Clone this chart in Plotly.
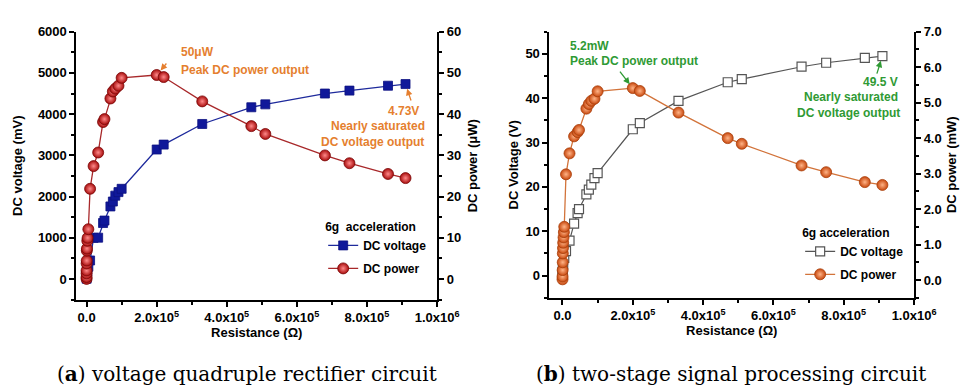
import plotly.graph_objects as go

# ---------------- data ----------------
# Panel (a): voltage quadruple rectifier circuit
R_volt_a = [100, 500, 1000, 2000, 5000, 10000, 20000, 33000, 47000, 51000, 68000, 75000, 82000, 91000, 100000,
            200000, 220000, 330000, 470000, 510000, 680000, 750000, 860000, 910000]
V_volt_a = [10, 50, 100, 180, 300, 452, 1000, 1005, 1360, 1420, 1762, 1881, 2024, 2110, 2190,
            3143, 3262, 3762, 4167, 4238, 4500, 4571, 4690, 4730]          # mV
R_pow_a = [10, 20, 50, 100, 200, 500, 700, 1000, 2000, 3000, 5000, 10000, 20000, 33000, 47000, 51000,
           68000, 75000, 82000, 91000, 100000, 200000, 220000, 330000, 470000, 510000, 680000, 750000,
           860000, 910000]
P_pow_a = [0.05, 0.5, 1.4, 2.1, 3.8, 4.5, 6.9, 7.4, 9.3, 10.0, 12.1, 21.9, 27.4, 30.7, 38.1, 38.8,
           43.8, 45.5, 46.2, 46.9, 48.8, 49.5, 49.0, 43.1, 37.1, 35.2, 30.0, 28.1, 25.5, 24.5]   # uW

# Panel (b): two-stage signal processing circuit
R_volt_b = [100, 500, 1000, 2000, 5000, 10000, 20000, 33000, 43000, 47000, 68000, 75000, 82000, 91000, 100000,
            200000, 220000, 330000, 470000, 510000, 680000, 750000, 860000, 910000]
V_volt_b = [0.2, 0.8, 1.5, 2.5, 4.0, 5.5, 7.9, 11.7, 14.1, 15.0, 18.3, 19.4, 20.5, 22.0, 23.1,
            33.0, 34.4, 39.4, 43.6, 44.3, 47.1, 48.0, 49.1, 49.5]          # V
R_pow_b = [100, 200, 500, 700, 1000, 1500, 2000, 3000, 4000, 5000, 10000, 20000, 33000, 43000, 47000,
           68000, 75000, 82000, 91000, 100000, 200000, 220000, 330000, 470000, 510000, 680000, 750000,
           860000, 910000]
P_pow_b = [0.02, 0.1, 0.28, 0.5, 0.75, 0.9, 1.05, 1.2, 1.35, 1.5, 2.98, 3.57, 4.05, 4.17, 4.23,
           4.83, 4.96, 5.05, 5.11, 5.32, 5.41, 5.33, 4.72, 4.0, 3.84, 3.23, 3.04, 2.76, 2.68]   # mW

x_tickvals = [0, 200000, 400000, 600000, 800000, 1000000]
x_ticktext = ["0.0", "2.0x10<sup>5</sup>", "4.0x10<sup>5</sup>", "6.0x10<sup>5</sup>",
              "8.0x10<sup>5</sup>", "1.0x10<sup>6</sup>"]

# ---------------- layout helpers ----------------
W, H = 973, 385
def fx(p):
    return p / W
def fy(p):
    return 1 - p / H

SANS = "Liberation Sans, Arial, sans-serif"
tickfont = dict(family=SANS, size=13, color="black", weight="bold")
titlefont = dict(family=SANS, size=13, color="black", weight="bold")
ORANGE_TXT = "#e57f2f"
GREEN_TXT = "#2f9a34"

fig = go.Figure()

# Panel a traces
fig.add_trace(go.Scatter(x=R_volt_a, y=V_volt_a, xaxis="x", yaxis="y", mode="lines+markers",
                         name="DC voltage", legend="legend", legendgroup="a1",
                         line=dict(color="#1e2a9c", width=1.3),
                         marker=dict(symbol="square", size=9, color="#10189a",
                                     line=dict(color="#0c1280", width=0.8))))
fig.add_trace(go.Scatter(x=R_pow_a, y=P_pow_a, xaxis="x", yaxis="y2", mode="lines+markers",
                         name="DC power", legend="legend", legendgroup="a2",
                         line=dict(color="#a8282a", width=1.3),
                         marker=dict(symbol="circle", size=11, color="#a80c0c",
                                     gradient=dict(type="radial", color="#ff8a8a"),
                                     line=dict(color="#7a0808", width=0.8))))
# Panel b traces
fig.add_trace(go.Scatter(x=R_volt_b, y=V_volt_b, xaxis="x2", yaxis="y3", mode="lines+markers",
                         name="DC voltage", legend="legend2", legendgroup="b1",
                         line=dict(color="#555555", width=1.2),
                         marker=dict(symbol="square", size=9, color="white",
                                     line=dict(color="#555555", width=1.2))))
fig.add_trace(go.Scatter(x=R_pow_b, y=P_pow_b, xaxis="x2", yaxis="y4", mode="lines+markers",
                         name="DC power", legend="legend2", legendgroup="b2",
                         line=dict(color="#d2733a", width=1.3),
                         marker=dict(symbol="circle", size=11, color="#c8480e",
                                     gradient=dict(type="radial", color="#ffb487"),
                                     line=dict(color="#a8400c", width=0.8))))

dom_xa = [fx(70), fx(439)]
dom_ya = [fy(290), fy(17)]
dom_xb = [fx(554), fx(927)]
dom_yb = [fy(288), fy(17)]

axis_common = dict(showline=True, linecolor="black", linewidth=2, showgrid=False, zeroline=False,
                   ticks="outside", ticklen=5, tickwidth=1.5, tickcolor="black", tickfont=tickfont)

layout = dict(
    width=W, height=H, margin=dict(l=0, r=0, t=0, b=0),
    paper_bgcolor="white", plot_bgcolor="white",
    showlegend=True,
    xaxis=dict(domain=dom_xa, anchor="y", range=[-29000, 1000000], tickvals=x_tickvals, ticktext=x_ticktext,
               minor=dict(dtick=100000, tick0=0, ticks="outside", ticklen=3, tickwidth=1.5, tickcolor="black"),
               title=dict(text="Resistance (Ω)", font=titlefont, standoff=2), **axis_common),
    yaxis=dict(domain=dom_ya, anchor="x", range=[-500, 6000], tick0=0, dtick=1000,
               minor=dict(dtick=500, tick0=0, ticks="outside", ticklen=3, tickwidth=1.5, tickcolor="black"),
               title=dict(text="DC voltage (mV)", font=titlefont, standoff=12), **axis_common),
    yaxis2=dict(overlaying="y", anchor="x", side="right", range=[-5, 60], tick0=0, dtick=10,
                minor=dict(dtick=5, tick0=0, ticks="outside", ticklen=3, tickwidth=1.5, tickcolor="black"),
                title=dict(text="DC power (μW)", font=titlefont, standoff=8), **axis_common),
    xaxis3=dict(overlaying="x", anchor="y", side="top", range=[-29000, 1000000], tickvals=x_tickvals,
                showticklabels=False, showline=True, linecolor="black", linewidth=2, showgrid=False,
                zeroline=False, ticks="inside", ticklen=5, tickwidth=1.5, tickcolor="black",
                minor=dict(dtick=100000, tick0=0, ticks="inside", ticklen=3, tickwidth=1.5, tickcolor="black")),
    xaxis2=dict(domain=dom_xb, anchor="y3", range=[-37000, 1000000], tickvals=x_tickvals, ticktext=x_ticktext,
                minor=dict(dtick=100000, tick0=0, ticks="outside", ticklen=3, tickwidth=1.5, tickcolor="black"),
                title=dict(text="Resistance (Ω)", font=titlefont, standoff=2), **axis_common),
    yaxis3=dict(domain=dom_yb, anchor="x2", range=[-5, 55], tick0=0, dtick=10,
                minor=dict(dtick=5, tick0=0, ticks="outside", ticklen=3, tickwidth=1.5, tickcolor="black"),
                title=dict(text="DC Voltage (V)", font=titlefont, standoff=4), **axis_common),
    yaxis4=dict(overlaying="y3", anchor="x2", side="right", range=[-0.5, 7.0], tick0=0, dtick=1,
                tickformat=".1f",
                minor=dict(dtick=0.5, tick0=0, ticks="outside", ticklen=3, tickwidth=1.5, tickcolor="black"),
                title=dict(text="DC power (mW)", font=titlefont, standoff=6), **axis_common),
    xaxis4=dict(overlaying="x2", anchor="y3", side="top", range=[-37000, 1000000], tickvals=x_tickvals,
                showticklabels=False, showline=True, linecolor="black", linewidth=2, showgrid=False,
                zeroline=False, ticks="inside", ticklen=5, tickwidth=1.5, tickcolor="black",
                minor=dict(dtick=100000, tick0=0, ticks="inside", ticklen=3, tickwidth=1.5, tickcolor="black")),
    legend=dict(x=fx(434), xanchor="right", y=fy(204), yanchor="top", bgcolor="rgba(0,0,0,0)",
                itemwidth=30, tracegroupgap=4,
                title=dict(text="6g  acceleration", font=dict(family=SANS, size=12, color="black", weight="bold")),
                font=dict(family=SANS, size=12, color="black", weight="bold")),
    legend2=dict(x=fx(922), xanchor="right", y=fy(210), yanchor="top", bgcolor="rgba(0,0,0,0)",
                 itemwidth=30, tracegroupgap=4,
                 title=dict(text="6g acceleration", font=dict(family=SANS, size=12, color="black", weight="bold")),
                 font=dict(family=SANS, size=12, color="black", weight="bold")),
)
fig.update_layout(**layout)

annfont_o = dict(family=SANS, size=12, color=ORANGE_TXT, weight="bold")
annfont_g = dict(family=SANS, size=12, color=GREEN_TXT, weight="bold")

def txt(text, xp, yp, anchor, font):
    fig.add_annotation(text=text, x=fx(xp), y=fy(yp), xref="paper", yref="paper",
                       xanchor=anchor, yanchor="middle", showarrow=False, font=font)

# Panel a text
txt("50μW", 175, 38, "left", annfont_o)
txt("Peak DC power output", 175, 56, "left", annfont_o)
txt("4.73V", 423, 98, "right", annfont_o)
txt("Nearly saturated", 429, 113, "right", annfont_o)
txt("DC voltage output", 428, 129, "right", annfont_o)
# Panel b text
txt("5.2mW", 573, 32, "left", annfont_g)
txt("Peak DC power output", 573, 47, "left", annfont_g)
txt("49.5 V", 913, 68, "right", annfont_g)
txt("Nearly saturated", 913, 84, "right", annfont_g)
txt("DC voltage output", 915, 100, "right", annfont_g)

# arrows pointing at data points
ia = P_pow_a.index(max(P_pow_a))
fig.add_annotation(x=R_pow_a[ia], y=P_pow_a[ia], xref="x", yref="y2", text="", showarrow=True,
                   ax=11, ay=-13, arrowhead=2, arrowsize=1, arrowwidth=1.3, arrowcolor=ORANGE_TXT, standoff=6)
fig.add_annotation(x=R_volt_a[-1], y=V_volt_a[-1], xref="x", yref="y", text="", showarrow=True,
                   ax=6, ay=18, arrowhead=2, arrowsize=1, arrowwidth=1.3, arrowcolor=ORANGE_TXT, standoff=5)
ib = P_pow_b.index(max(P_pow_b))
fig.add_annotation(x=R_pow_b[ib], y=P_pow_b[ib], xref="x2", yref="y4", text="", showarrow=True,
                   ax=-14, ay=-18, arrowhead=2, arrowsize=1, arrowwidth=1.3, arrowcolor=GREEN_TXT, standoff=5)
fig.add_annotation(x=R_volt_b[-1], y=V_volt_b[-1], xref="x2", yref="y3", text="", showarrow=True,
                   ax=-6, ay=19, arrowhead=2, arrowsize=1, arrowwidth=1.3, arrowcolor=GREEN_TXT, standoff=5)

# captions
SERIF = "DejaVu Serif, Liberation Serif, serif"
capfont = dict(family=SERIF, size=20, color="black")
fig.add_annotation(text="(<b>a</b>) voltage quadruple rectifier circuit", x=fx(245), y=fy(366),
                   xref="paper", yref="paper", xanchor="center", yanchor="middle", showarrow=False, font=capfont)
fig.add_annotation(text="(<b>b</b>) two-stage signal processing circuit", x=fx(740), y=fy(366),
                   xref="paper", yref="paper", xanchor="center", yanchor="middle", showarrow=False, font=capfont)

fig.write_html("out.html")
